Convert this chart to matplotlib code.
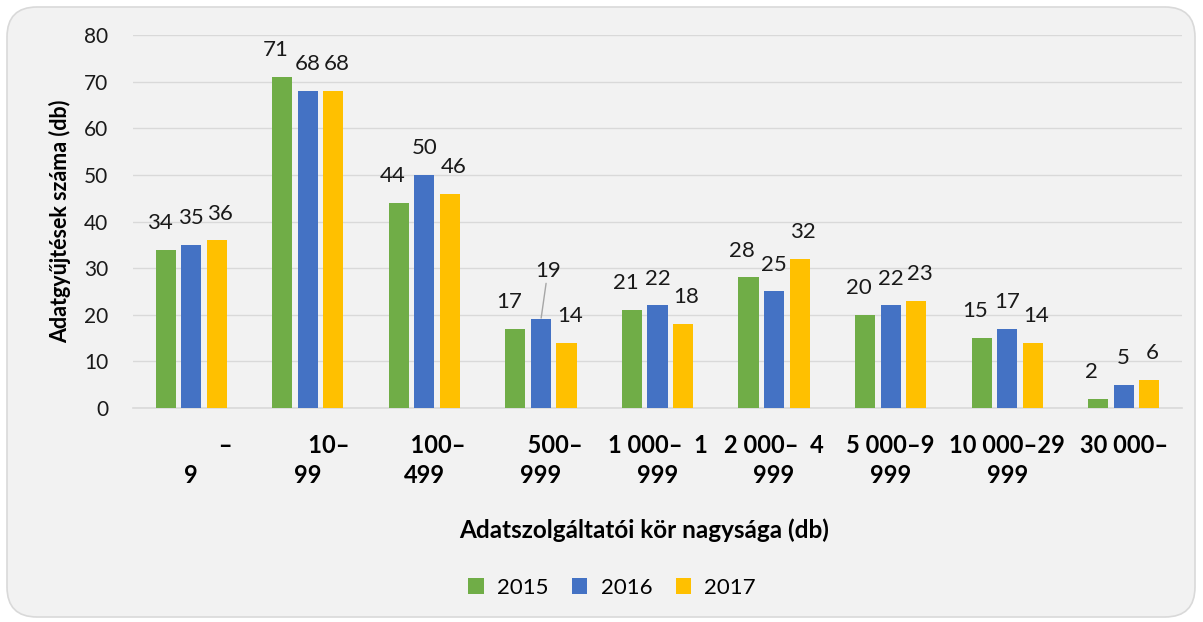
import numpy as np
import matplotlib
matplotlib.use('Agg')
import matplotlib.pyplot as plt
from matplotlib.patches import FancyBboxPatch

plt.rcParams['font.family'] = ['Lato', 'DejaVu Sans']

## category labels as they wrap in the original (first line, second line)
label_top = ['\u2007' * 5 + '–', '\u2007' * 3 + '10–', '\u2007' * 2 + '100–', '\u2007' * 2 + '500–',
             '1 000–  1', '2 000–  4', '5 000–9', '10 000–29', '30 000–']
label_bottom = ['9', '99', '499', '999', '999', '999', '999', '999', '']
years = ['2015', '2016', '2017']
v2015 = [34, 71, 44, 17, 21, 28, 20, 15, 2]
v2016 = [35, 68, 50, 19, 22, 25, 22, 17, 5]
v2017 = [36, 68, 46, 14, 18, 32, 23, 14, 6]
colors = ['#70AD47', '#4472C4', '#FFC000']

fig = plt.figure(figsize=(12.03, 6.22), dpi=100)
fig.patch.set_facecolor('white')
bg = FancyBboxPatch((0.07, 0.05), 11.88, 6.1, boxstyle='round,pad=0,rounding_size=0.3',
                    transform=fig.dpi_scale_trans, facecolor='#F2F2F2', edgecolor='#D9D9D9',
                    linewidth=1.2, zorder=-10)
fig.patches.append(bg)

ax = fig.add_axes([0.1106, 0.344, 0.8719, 0.5997])
ax.set_facecolor('none')

x = np.arange(len(label_top))
step = 0.219
width = 0.172
series = [v2015, v2016, v2017]
label_shift = [-4.5, 0, 2.5]  # labels spread sideways a bit so they don't touch
for k, (vals, yr, c) in enumerate(zip(series, years, colors)):
    pos = x + (k - 1) * step
    ax.bar(pos, vals, width=width, color=c, label=yr, zorder=3)
    for p, v in zip(pos, vals):
        if yr == '2016' and v == 19:
            # label pushed up with a leader line, as in the original
            ax.annotate(str(v), xy=(p, v), xytext=(5, 28), textcoords='offset points',
                        ha='center', va='bottom', fontsize=16, color='#1a1a1a',
                        arrowprops=dict(arrowstyle='-', color='#A6A6A6', lw=1,
                                        shrinkA=0, shrinkB=1))
        else:
            ax.annotate(str(v), xy=(p, v), xytext=(label_shift[k], 12), textcoords='offset points',
                        ha='center', va='bottom', fontsize=16, color='#1a1a1a')

ax.set_xlim(-0.5, len(label_top) - 0.5)
ax.set_ylim(0, 80)
ax.set_yticks(range(0, 81, 10))
ax.grid(axis='y', color='#D9D9D9', linewidth=1, zorder=0)
ax.set_axisbelow(True)
for s in ['left', 'top', 'right']:
    ax.spines[s].set_visible(False)
ax.spines['bottom'].set_color('#D9D9D9')
ax.spines['bottom'].set_linewidth(1.2)
ax.tick_params(axis='both', length=0, labelcolor='#1a1a1a')
ax.tick_params(axis='y', pad=18, labelsize=15)
ax.tick_params(axis='x', pad=19, labelsize=17)

ax.set_xticks(x)
ax.set_xticklabels([t + '\n' + b for t, b in zip(label_top, label_bottom)],
                   fontweight='bold', linespacing=1.32, va='top')
for lbl in ax.get_xticklabels():
    lbl.set_color('black')

ax.set_ylabel('Adatgyűjtések száma (db)', fontsize=15.5, fontweight='bold', labelpad=9)
fig.text(644 / 1203, 1 - 530 / 622, 'Adatszolgáltatói kör nagysága (db)', fontsize=17.5,
         fontweight='bold', ha='center', va='center')

fig.legend(loc='center', bbox_to_anchor=(612 / 1203, 1 - 588 / 622), ncol=3, frameon=False,
           fontsize=16, handlelength=0.7, handleheight=0.7, handletextpad=0.6, columnspacing=1.05)

fig.savefig('out.png', dpi=100, facecolor=fig.get_facecolor())
